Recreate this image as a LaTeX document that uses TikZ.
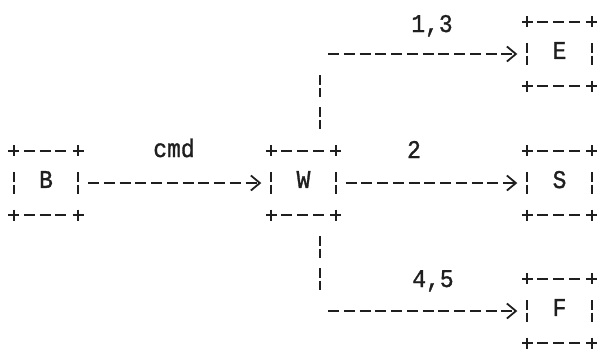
\documentclass[tikz,border=0pt]{standalone}
\usepackage{fontspec}
\newfontfamily\asciifont{Liberation Mono}[FakeStretch=0.9,FakeBold=1.2]
\usetikzlibrary{arrows.meta}
\begin{document}
\begin{tikzpicture}[x=1pt,y=-1pt,
  every node/.style={font=\asciifont\fontsize{25.5}{28}\selectfont,text=black!88},
  box/.style={minimum width=64pt,minimum height=64pt,inner sep=0pt,text depth=7pt},
  lbl/.style={inner sep=0pt,anchor=base},
  ink/.style={draw=black!88,line width=1.8pt},
  hdash/.style={ink,dash pattern=on 11pt off 4.75pt},
  vbar/.style={ink,dash pattern=on 9.5pt off 3pt on 9.5pt off 10pt},
  sidebar/.style={ink,dash pattern=on 9.5pt off 3pt},
  conn/.style={hdash,-{Straight Barb[length=9pt,width=15pt,line width=1.8pt]},shorten <=10pt,shorten >=10pt}]
\useasboundingbox (0,0) rectangle (597,349);
% boxes
\node[box] (B) at (46,183) {B};
\node[box] (W) at (303.5,183) {W};
\node[box] (S) at (559.5,183) {S};
\node[box] (E) at (559.5,54) {E};
\node[box] (F) at (559.5,311) {F};
% ascii-style box borders
\foreach \n in {B,W,S,E,F}{
  \foreach \c in {north west,north east,south west,south east}{
    \draw[ink] (\n.\c) ++(-5.5,0) -- ++(11,0);
    \draw[ink] (\n.\c) ++(0,-5.5) -- ++(0,11);
  }
  \draw[hdash] ([xshift=10pt]\n.north west) -- ([xshift=-10pt]\n.north east);
  \draw[hdash] ([xshift=10pt]\n.south west) -- ([xshift=-10pt]\n.south east);
  \draw[sidebar] ([yshift=11pt]\n.west) -- ([yshift=-11pt]\n.west);
  \draw[sidebar] ([yshift=11pt]\n.east) -- ([yshift=-11pt]\n.east);
}
% labels
\node[lbl] (lcmd) at (174,157) {cmd};
\node[lbl] (l2) at (414,158) {2};
\node[lbl] (l13) at (432,32) {1,3};
\node[lbl] (l45) at (433,287) {4,5};
% connectors
\draw[conn] (B) -- (W);
\draw[conn] (W) -- (S);
\coordinate (tvA) at (320,75);
\coordinate (tvB) at (320,129);
\coordinate (th) at (328,54);
\draw[vbar] (tvB) -- (tvA);
\draw[conn,shorten <=0pt] (th) -- (E.west);
\coordinate (bvA) at (320,236);
\coordinate (bvB) at (320,290);
\coordinate (bh) at (328,311);
\draw[vbar] (bvA) -- (bvB);
\draw[conn,shorten <=0pt] (bh) -- (F.west);
\end{tikzpicture}
\end{document}
